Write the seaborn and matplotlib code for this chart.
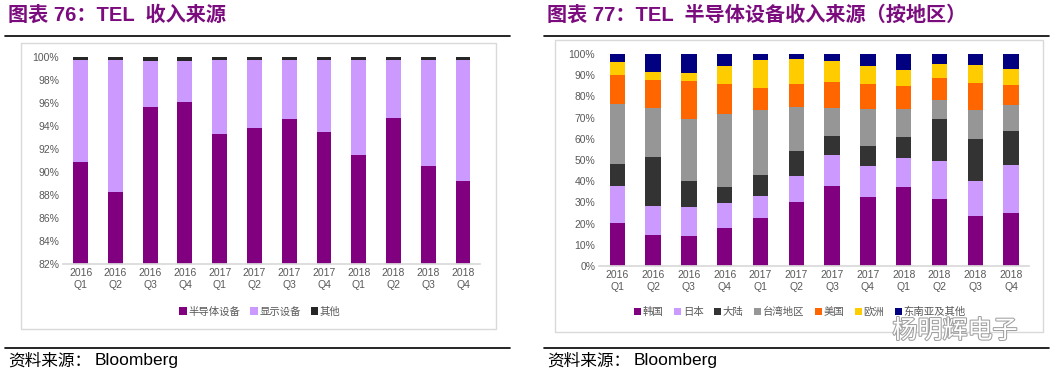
import numpy as np
import pandas as pd
import matplotlib
matplotlib.use("Agg")
import matplotlib.pyplot as plt
import matplotlib.patheffects as pe
from matplotlib.patches import Rectangle
from matplotlib.lines import Line2D
import seaborn as sns

sns.set_theme(style="white")
plt.rcParams['font.family'] = ['Liberation Sans', 'Noto Sans CJK SC', 'DejaVu Sans']

# ---------------- data ----------------
quarters = ["2016\nQ1", "2016\nQ2", "2016\nQ3", "2016\nQ4",
            "2017\nQ1", "2017\nQ2", "2017\nQ3", "2017\nQ4",
            "2018\nQ1", "2018\nQ2", "2018\nQ3", "2018\nQ4"]

# Chart 76: revenue by segment (%)
semi = [90.9, 88.3, 95.7, 96.1, 93.3, 93.8, 94.6, 93.5, 91.5, 94.7, 90.5, 89.2]
display = [8.9, 11.5, 4.0, 3.6, 6.5, 6.0, 5.2, 6.3, 8.3, 5.1, 9.3, 10.6]
other = [0.2, 0.2, 0.3, 0.3, 0.2, 0.2, 0.2, 0.2, 0.2, 0.2, 0.2, 0.2]
seg_names = ["半导体设备", "显示设备", "其他"]

# Chart 77: semiconductor equipment revenue by region (%)
korea = [20.3, 14.8, 14.2, 18.1, 22.5, 30.3, 37.9, 32.5, 37.3, 31.4, 23.7, 24.8]
japan = [17.4, 13.5, 13.5, 11.5, 10.7, 12.2, 14.3, 14.5, 13.8, 18.1, 16.2, 22.8]
mainland = [10.4, 23.0, 12.2, 7.7, 9.6, 11.9, 9.0, 9.6, 9.7, 19.7, 20.0, 16.1]
taiwan = [28.5, 23.2, 29.6, 34.6, 30.6, 20.8, 13.3, 17.5, 13.4, 9.3, 13.5, 12.1]
usa = [13.3, 13.2, 17.9, 13.8, 10.4, 10.8, 12.3, 11.9, 10.5, 10.3, 12.9, 9.4]
europe = [6.3, 3.8, 3.5, 8.5, 13.5, 11.6, 10.1, 8.2, 7.8, 6.5, 8.5, 7.9]
sea_other = [3.8, 8.5, 9.1, 5.8, 2.7, 2.4, 3.1, 5.8, 7.5, 4.7, 5.2, 6.9]
region_names = ["韩国", "日本", "大陆", "台湾地区", "美国", "欧洲", "东南亚及其他"]

seg_colors = ["#800080", "#CC99FF", "#262626"]
region_colors = ["#800080", "#CC99FF", "#333333", "#969696", "#FF6600", "#FFCC00", "#000080"]

W, H = 1055, 377
fig = plt.figure(figsize=(W / 100, H / 100), dpi=100)
fig.patch.set_facecolor("white")

def fx(px):
    return px / W

def fy(py):
    return 1 - py / H

title_color = "#7B0C7E"
tick_color = "#595959"

# ---------- frame decorations ----------
def decorate(x0, x1, title, box):
    fig.text(fx(x0 + 3), fy(15), title, fontsize=14.5, fontweight="bold",
             color=title_color, va="center", ha="left",
             family=['Liberation Sans', 'Noto Sans CJK SC'])
    fig.add_artist(Line2D([fx(x0), fx(x1)], [fy(35.5), fy(35.5)], color="black", lw=1.2))
    fig.add_artist(Line2D([fx(x0), fx(x1)], [fy(348), fy(348)], color="black", lw=1.2))
    bx0, by0, bx1, by1 = box
    fig.add_artist(Rectangle((fx(bx0), fy(by1)), fx(bx1 - bx0), (by1 - by0) / H,
                             fill=False, edgecolor="#D9D9D9", lw=1.0))
    fig.text(fx(x0 + 3), fy(361), "资料来源：", fontsize=12, color="black",
             va="center", ha="left", family=['Noto Sans CJK SC'])
    fig.text(fx(x0 + 90), fy(361), "Bloomberg", fontsize=12.5, color="black",
             va="center", ha="left", family=['Liberation Sans'])

decorate(5, 510, "图表 76：TEL  收入来源", (20.5, 43, 495.5, 328.5))
decorate(544, 1049, "图表 77：TEL  半导体设备收入来源（按地区）", (555, 39.5, 1043, 331.5))

# ---------- stacked bar helper ----------
def stacked(ax, series, colors, names):
    df = pd.DataFrame({n: s for n, s in zip(names, series)}, index=quarters)
    cum = df.cumsum(axis=1)
    for n, c in reversed(list(zip(names, colors))):
        sns.barplot(x=list(quarters), y=cum[n].values, color=c, saturation=1,
                    width=0.43, ax=ax, label=n, edgecolor="none")
    ax.set_xlim(-0.5, len(quarters) - 0.5)
    for s in ["top", "right", "left"]:
        ax.spines[s].set_visible(False)
    ax.spines["bottom"].set_color("#D9D9D9")
    ax.tick_params(axis="both", which="major", labelsize=7.5, colors=tick_color, length=0, pad=3)
    ax.set_xticks(np.arange(-0.5, len(quarters), 1.0), minor=True)
    ax.tick_params(axis="x", which="minor", length=3, color="#D9D9D9", direction="out")
    ax.set_xlabel("")
    ax.set_ylabel("")
    ax.grid(False)
    leg = ax.get_legend()
    if leg is not None:
        leg.remove()

# Left chart
ax1 = fig.add_axes([fx(63.3), fy(264), fx(480.4 - 63.3), (264 - 57.3) / H])
stacked(ax1, [semi, display, other], seg_colors, seg_names)
ax1.set_ylim(82, 100)
ax1.set_yticks(np.arange(82, 101, 2))
ax1.set_yticklabels([f"{v}%" for v in range(82, 101, 2)])

# Right chart
ax2 = fig.add_axes([fx(599.4), fy(266), fx(1029 - 599.4), (266 - 54) / H])
stacked(ax2, [korea, japan, mainland, taiwan, usa, europe, sea_other], region_colors, region_names)
ax2.set_ylim(0, 100)
ax2.set_yticks(np.arange(0, 101, 10))
ax2.set_yticklabels([f"{v}%" for v in range(0, 101, 10)])

# Legends
def legend(names, colors, cx, cy):
    handles = [Rectangle((0, 0), 1, 1, facecolor=c, edgecolor="none") for c in colors]
    fig.legend(handles, names, loc="center", bbox_to_anchor=(fx(cx), fy(cy)),
               ncol=len(names), frameon=False, handlelength=0.7,
               handleheight=0.7, handletextpad=0.15, columnspacing=1.0,
               labelcolor=tick_color, prop={'family': ['Noto Sans CJK SC'], 'size': 7.5})

legend(seg_names, seg_colors, 260, 311.5)
legend(region_names, region_colors, 800, 312)

# watermark
fig.text(fx(955), fy(331), "杨明辉电子", fontsize=18, color="white", ha="center", va="center",
         family=['Noto Sans CJK SC'],
         path_effects=[pe.withStroke(linewidth=1.5, foreground="#A0A0A0")])

fig.savefig("out.png", dpi=100, facecolor="white")
